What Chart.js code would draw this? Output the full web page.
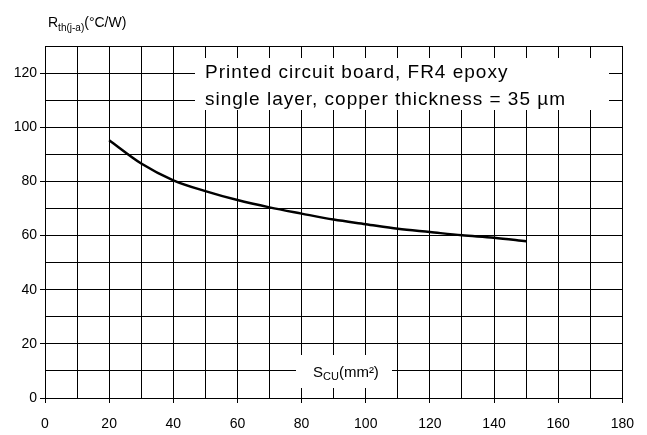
<!DOCTYPE html>
<html>
<head>
<meta charset="utf-8">
<script src="https://cdn.jsdelivr.net/npm/chart.js@4/dist/chart.umd.min.js"></script>
<style>
  html, body { margin: 0; padding: 0; background: #fff; }
  #wrap { width: 647px; height: 435px; }
</style>
</head>
<body>
<div id="wrap"><canvas id="chart"></canvas></div>
<script>
// curve, Scu (mm²) vs Rth(j-a) (°C/W)
const areaMm2 = [20, 30, 40, 50, 60, 70, 80, 90, 100, 110, 120, 130, 140, 150];
const rthValues = [95.2, 86.6, 80.4, 76.4, 73.1, 70.4, 68.1, 65.9, 64.2, 62.5, 61.3, 60.1, 59.2, 57.9];

const xTickLabels = [0, 20, 40, 60, 80, 100, 120, 140, 160, 180];
const yTickLabels = [0, 20, 40, 60, 80, 100, 120];

const FONT = "'Liberation Sans', Arial, sans-serif";

// white boxes with the notes, drawn over the grid
const notesPlugin = {
    id: 'notes',
    afterDraw(chart) {
        const ctx = chart.ctx;
        ctx.save();
        ctx.fillStyle = '#fff';
        ctx.fillRect(195, 58, 414, 52);
        ctx.fillRect(296, 355, 96, 33);

        ctx.fillStyle = '#000';
        ctx.textBaseline = 'alphabetic';
        ctx.textAlign = 'left';
        ctx.font = '19px ' + FONT;
        ctx.letterSpacing = '1px';
        ctx.fillText('Printed circuit board, FR4 epoxy', 205, 78);
        ctx.fillText('single layer, copper thickness = 35 µm', 205, 105);
        ctx.letterSpacing = '0px';

        // x axis title with subscript
        let x = 313;
        ctx.font = '15px ' + FONT;
        ctx.fillText('S', x, 377);
        x += ctx.measureText('S').width;
        ctx.font = '11px ' + FONT;
        ctx.fillText('CU', x, 380);
        x += ctx.measureText('CU').width;
        ctx.font = '15px ' + FONT;
        ctx.fillText('(mm²)', x, 377);

        // y axis title
        x = 48;
        ctx.font = '14px ' + FONT;
        ctx.fillText('R', x, 27);
        x += ctx.measureText('R').width;
        ctx.font = '10px ' + FONT;
        ctx.fillText('th(j-a)', x, 31);
        x += ctx.measureText('th(j-a)').width;
        ctx.font = '14px ' + FONT;
        ctx.fillText('(°C/W)', x, 27);
        ctx.restore();
    }
};

const ctx = document.getElementById('chart').getContext('2d');
new Chart(ctx, {
    type: 'line',
    data: {
        datasets: [{
            data: areaMm2.map((a, i) => ({ x: a, y: rthValues[i] })),
            borderColor: '#000',
            borderWidth: 2.5,
            pointRadius: 0,
            fill: false,
            cubicInterpolationMode: 'monotone'
        }]
    },
    options: {
        responsive: true,
        maintainAspectRatio: false,
        animation: false,
        layout: { padding: { top: 46, right: 21, left: 0, bottom: 0 } },
        plugins: { legend: { display: false }, tooltip: { enabled: false } },
        scales: {
            x: {
                type: 'linear',
                min: 0,
                max: 180,
                afterFit: s => { s.height = 37; },
                border: { color: '#000', width: 1 },
                grid: {
                    color: '#000',
                    lineWidth: 1,
                    tickLength: 5,
                    tickColor: c => xTickLabels.includes(c.tick.value) ? '#000' : 'rgba(0,0,0,0)'
                },
                ticks: {
                    stepSize: 10,
                    color: '#000',
                    padding: 13,
                    maxRotation: 0,
                    autoSkip: false,
                    font: { family: FONT, size: 14 },
                    callback: v => xTickLabels.includes(v) ? String(v) : ''
                }
            },
            y: {
                min: 0,
                max: 130,
                afterFit: s => { s.width = 45; },
                border: { color: '#000', width: 1 },
                grid: {
                    color: '#000',
                    lineWidth: 1,
                    tickLength: 5,
                    tickColor: c => yTickLabels.includes(c.tick.value) ? '#000' : 'rgba(0,0,0,0)'
                },
                ticks: {
                    stepSize: 10,
                    color: '#000',
                    padding: 3,
                    autoSkip: false,
                    font: { family: FONT, size: 14 },
                    callback: v => yTickLabels.includes(v) ? String(v) : ''
                }
            }
        }
    },
    plugins: [notesPlugin]
});
</script>
</body>
</html>
